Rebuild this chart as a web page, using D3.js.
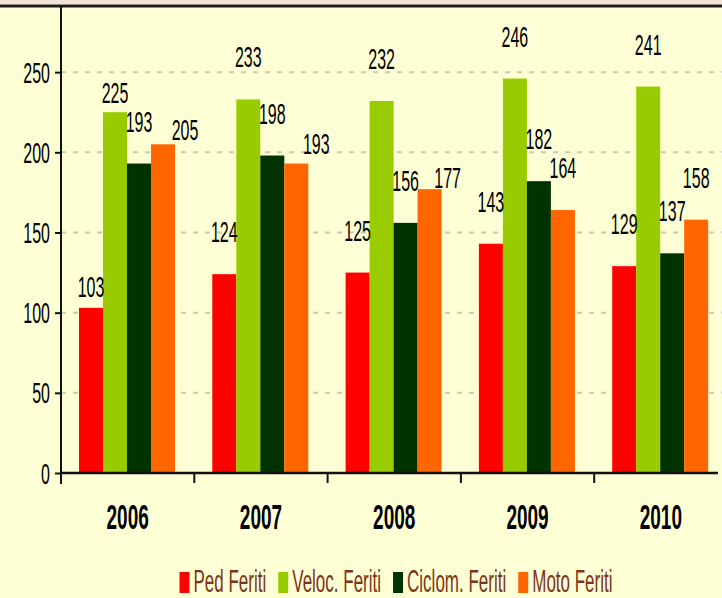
<!DOCTYPE html>
<html>
<head>
<meta charset="utf-8">
<script src="https://cdn.jsdelivr.net/npm/d3@7"></script>
<style>
  html, body { margin: 0; padding: 0; background: #ffffd6; }
  svg { display: block; }
</style>
</head>
<body>
<script>
// data
var years = ['2006', '2007', '2008', '2009', '2010'];
var seriesNames = ['Ped Feriti', 'Veloc. Feriti', 'Ciclom. Feriti', 'Moto Feriti'];
var ped = [103, 124, 125, 143, 129];
var veloc = [225, 233, 232, 246, 241];
var ciclom = [193, 198, 156, 182, 137];
var moto = [205, 193, 177, 164, 158];
var seriesColors = ['#ff0000', '#99cc00', '#003300', '#ff6600'];
var yTicks = [0, 50, 100, 150, 200, 250];

var W = 722, H = 598;
var left = 61, zeroY = 473, topY = 8;
var stretch = 1.8;   // source picture is squeezed sideways, so text looks tall

// some value labels sit lower / right of the usual spot in the source
var labelNudge = {
    '2006|0': [0, 21], '2006|1': [0, 23], '2006|3': [22, 28],
    '2007|3': [20, 22], '2008|3': [18, 31]
};

var svg = d3.select('body').append('svg').attr('width', W).attr('height', H);
svg.append('rect').attr('width', W).attr('height', H).attr('fill', '#ffffd6');
svg.append('rect').attr('width', W).attr('height', 4).attr('fill', '#f2e2da');
svg.append('line').attr('x1', 0).attr('x2', W).attr('y1', 6).attr('y2', 6)
    .attr('stroke', '#1c1c1c').attr('stroke-width', 3);

var x = d3.scaleBand().domain(years).range([left, left + 133.3 * years.length]).padding(0);
var xs = d3.scaleBand().domain(d3.range(seriesNames.length)).range([18, 114]).padding(0);
var y = d3.scaleLinear().domain([0, 290]).range([zeroY, topY]);

var rows = years.map(function(yr, i) {
    return { year: yr, vals: [ped[i], veloc[i], ciclom[i], moto[i]] };
});

function tallText(parent, tx, ty, txt, size, weight, anchor, fill) {
    var g = parent.append('g').attr('transform', 'translate(' + tx + ',' + ty + ') scale(1,' + stretch + ')');
    return g.append('text').text(txt)
        .attr('font-family', '"Liberation Sans", Arial, sans-serif')
        .attr('font-size', size).attr('font-weight', weight)
        .attr('text-anchor', anchor).attr('fill', fill);
}

// grid
svg.append('g').selectAll('line').data(yTicks.filter(function(d) { return d > 0; }))
    .enter().append('line')
    .attr('x1', left).attr('x2', W).attr('y1', function(d) { return y(d); }).attr('y2', function(d) { return y(d); })
    .attr('stroke', '#c9c9b2').attr('stroke-width', 2).attr('stroke-dasharray', '5,7');

// bars
var groups = svg.append('g').selectAll('g').data(rows).enter().append('g')
    .attr('transform', function(d) { return 'translate(' + x(d.year) + ',0)'; });
groups.selectAll('rect').data(function(d) { return d.vals; }).enter().append('rect')
    .attr('x', function(d, i) { return xs(i); })
    .attr('width', xs.bandwidth())
    .attr('y', function(d) { return y(d); })
    .attr('height', function(d) { return zeroY - y(d); })
    .attr('fill', function(d, i) { return seriesColors[i]; });

// value labels
rows.forEach(function(r) {
    r.vals.forEach(function(v, i) {
        var n = labelNudge[r.year + '|' + i] || [0, 0];
        tallText(svg, x(r.year) + xs(i) + xs.bandwidth() / 2 + n[0], y(v) - 32 + n[1],
            String(v), 16, 'normal', 'middle', '#000');
    });
});

// y axis
var yAxis = svg.append('g').attr('transform', 'translate(' + left + ',0)')
    .call(d3.axisLeft(y).tickValues(yTicks).tickSize(6).tickSizeOuter(0));
yAxis.select('.domain').remove();
yAxis.selectAll('.tick line').attr('stroke', '#111').attr('stroke-width', 2);
yAxis.selectAll('.tick text')
    .attr('x', -11).attr('dy', '0.35em')
    .attr('transform', 'scale(1,' + stretch + ')')
    .attr('font-family', '"Liberation Sans", Arial, sans-serif')
    .attr('font-size', 16).attr('fill', '#000');
svg.append('line').attr('x1', left).attr('x2', left).attr('y1', 6).attr('y2', zeroY + 11)
    .attr('stroke', '#111').attr('stroke-width', 2);

// x axis
svg.append('line').attr('x1', left).attr('x2', 718).attr('y1', zeroY).attr('y2', zeroY)
    .attr('stroke', '#111').attr('stroke-width', 2.5);
svg.append('g').selectAll('line').data(years.slice(1)).enter().append('line')
    .attr('x1', function(d) { return x(d); }).attr('x2', function(d) { return x(d); })
    .attr('y1', zeroY).attr('y2', zeroY + 10)
    .attr('stroke', '#111').attr('stroke-width', 2);
years.forEach(function(yr) {
    tallText(svg, x(yr) + x.bandwidth() / 2, 529, yr, 19, 'bold', 'middle', '#000');
});

// legend
var legend = svg.append('g');
var lx = 0;
seriesNames.forEach(function(name, i) {
    legend.append('rect').attr('x', lx).attr('y', 572).attr('width', 10).attr('height', 21)
        .attr('fill', seriesColors[i]);
    var t = tallText(legend, lx + 14, 592, name, 17, 'normal', 'start', '#7e3418');
    lx += 14 + t.node().getComputedTextLength() + 12;
});
legend.attr('transform', 'translate(' + (396 - (lx - 12) / 2) + ',0)');
</script>
</body>
</html>
